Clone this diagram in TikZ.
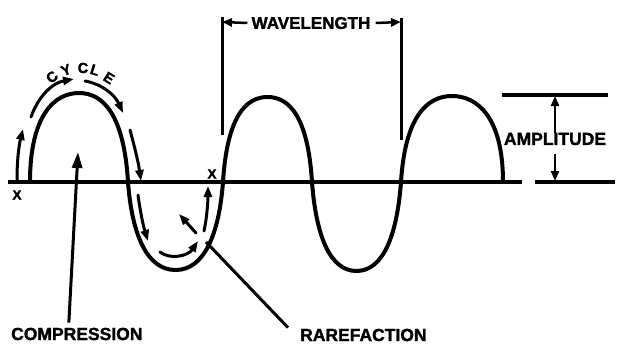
\documentclass[tikz,border=0pt]{standalone}
\usepackage{fontspec}
\setmainfont{Liberation Sans}[BoldFeatures={FakeBold=1.6}]
\usetikzlibrary{arrows.meta}
\begin{document}
\begin{tikzpicture}[x=1pt,y=-1pt,
  wave/.style={line width=4pt, line join=round},
  guide/.style={line width=3pt},
  cyc/.style={line width=3pt, line cap=round, -{Triangle[length=11pt,width=8pt]}},
  ptr/.style={line width=3pt, -{Triangle[length=16pt,width=10pt]}},
  dim/.style={line width=2.5pt, -{Triangle[length=10pt,width=8pt]}},
  lbl/.style={inner sep=0pt, font=\fontsize{17.5}{18}\selectfont\bfseries},
  small/.style={inner sep=0pt, font=\fontsize{14.5}{14}\selectfont\bfseries},
  xmark/.style={inner sep=0pt, font=\fontsize{13.5}{13}\selectfont\bfseries}
]
\fill[white] (0,0) rectangle (621,345);
\useasboundingbox (0,0) rectangle (621,345);

% axis lines
\draw[wave] (8,182) -- (522,182);
\draw[wave] (535,182) -- (615,182);
\draw[wave] (502,95) -- (608,95);

% wave
\draw[wave] (30,182)
  .. controls (30,115.3) and (54.5,93) .. (79,93)
  .. controls (103.5,93) and (124,115.3) .. (128,182)
  .. controls (132,234.8) and (147,270) .. (175.5,270)
  .. controls (204,270) and (219,234.8) .. (223,182)
  .. controls (227,118) and (245,97) .. (267.5,97)
  .. controls (290,97) and (308,118) .. (312,182)
  .. controls (316,235.4) and (329.8,271) .. (356.5,271)
  .. controls (383.2,271) and (397,235.4) .. (401,182)
  .. controls (405,117.5) and (426.5,96) .. (452,96)
  .. controls (477.5,96) and (503,117.5) .. (503,182);

% wavelength bracket
\coordinate (wlL) at (222,22);
\coordinate (wlR) at (401,22);
\draw[guide] (222,17) -- (222,135);
\draw[guide] (401,18) -- (401,140);
\node[lbl, font=\fontsize{17}{18}\selectfont\bfseries] (wl) at (311,23) {WAVELENGTH};
\draw[dim] ([xshift=-4pt]wl.west) -- (wlL);
\draw[dim] ([xshift=5pt]wl.east) -- (wlR);

% amplitude
\node[lbl] (amp) at (555,139) {AMPLITUDE};
\coordinate (ampT) at (555,96);
\coordinate (ampB) at (555,181);
\draw[dim] ([yshift=-0.5pt]amp.north) -- (ampT);
\draw[dim] ([yshift=-9pt]amp.south) -- (ampB);

% cycle lettering
\node[small, rotate=40] (c1) at (52,77) {C};
\node[small, rotate=20] (c2) at (66,70) {Y};
\node[small, rotate=0] (c3) at (83,68) {C};
\node[small, rotate=-18] (c4) at (95,70) {L};
\node[small, rotate=-32] (c5) at (109,78) {E};

% x marks
\node[xmark] (xa) at (17,195) {X};
\node[xmark] (xb) at (212,174) {X};

% cycle arrows
\draw[cyc] (17,180) .. controls (17,160) and (19,145) .. (23,129);
\draw[cyc] (31,117) .. controls (38,97) and (52,83) .. (74,79);
\draw[cyc] (85,81) .. controls (102,84) and (115,95) .. (123,113);
\draw[cyc] (130,130) .. controls (134,145) and (138,160) .. (141,181);
\draw[cyc] (138,195) .. controls (140,210) and (143,225) .. (148,241);
\draw[cyc] (160,252) .. controls (170,260) and (188,256) .. (198,241);
\draw[cyc] (204,231) .. controls (207,218) and (208,200) .. (208,186);
\draw[cyc] (196,233) -- (179,214);

% compression / rarefaction
\node[lbl, anchor=west] (comp) at (11,334) {COMPRESSION};
\node[lbl, anchor=west] (rare) at (300,335) {RAREFACTION};
\coordinate (comptip) at (78,152);
\coordinate (rarestart) at (206,242);
\draw[ptr] ([xshift=-8pt,yshift=5pt]comp.north) -- (comptip);
\draw[guide] (rarestart) -- ([xshift=-12pt,yshift=1pt]rare.north west);
\end{tikzpicture}
\end{document}
